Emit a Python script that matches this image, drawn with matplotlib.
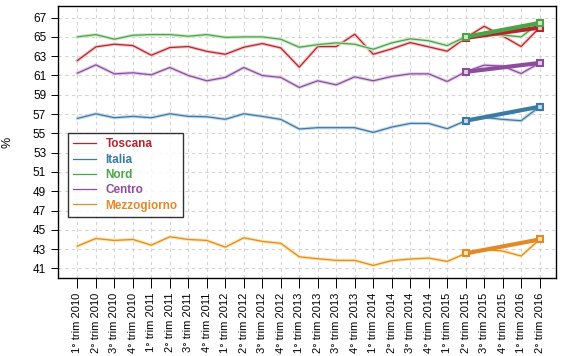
import numpy as np
import matplotlib
matplotlib.use('Agg')
from matplotlib import pyplot as plt
import matplotlib.patheffects as pe

plt.rcParams['font.family'] = ['Liberation Sans', 'DejaVu Sans']

# trimestri
anni = [2010, 2011, 2012, 2013, 2014, 2015, 2016]
trimestri = [f"{q}° trim {a}" for a in anni for q in range(1, 5)][:26]

# tassi di occupazione (%)
toscana = [62.55, 63.97, 64.24, 64.1, 63.1, 63.9, 64.0, 63.5, 63.2, 63.93, 64.31, 63.86, 61.86,
           64.0, 64.0, 65.28, 63.2, 63.76, 64.41, 63.97, 63.52, 64.9, 66.1, 65.1, 64.0, 65.97]
italia = [56.55, 57.03, 56.62, 56.76, 56.62, 57.03, 56.76, 56.72, 56.46, 57.03, 56.76, 56.45, 55.45,
          55.59, 55.59, 55.59, 55.1, 55.65, 56.03, 56.03, 55.48, 56.31, 56.66, 56.45, 56.31, 57.76]
nord = [65.0, 65.24, 64.76, 65.17, 65.24, 65.24, 65.07, 65.24, 64.95, 65.0, 65.0, 64.76, 63.93,
        64.2, 64.38, 64.24, 63.72, 64.38, 64.8, 64.6, 64.1, 65.0, 65.34, 65.2, 65.0, 66.45]
centro = [61.24, 62.1, 61.17, 61.28, 61.07, 61.83, 61.0, 60.45, 60.8, 61.83, 61.0, 60.8, 59.76,
          60.45, 60.03, 60.86, 60.45, 60.9, 61.17, 61.17, 60.38, 61.38, 62.07, 61.97, 61.2, 62.3]
mezzogiorno = [43.31, 44.1, 43.9, 44.0, 43.41, 44.28, 44.0, 43.9, 43.2, 44.17, 43.8, 43.6, 42.2,
               42.0, 41.83, 41.83, 41.31, 41.8, 41.97, 42.07, 41.72, 42.55, 42.97, 42.8, 42.28, 44.0]

serie = [('Toscana', toscana, '#B2262E', '#f4c6c6'),
         ('Italia', italia, '#3C7AA6', '#c9dbe8'),
         ('Nord', nord, '#4BA546', '#cfe8cc'),
         ('Centro', centro, '#8C4E9C', '#e0cde6'),
         ('Mezzogiorno', mezzogiorno, '#E2892A', '#fde6a8')]

x = np.arange(len(trimestri))
i0, i1 = 21, 25  # tendenza ultimo anno

fig = plt.figure(figsize=(5.63, 3.56), dpi=100)
ax = fig.add_axes([0.103, 0.219, 0.885, 0.764])

for nome, val, col, alone in serie:
    ax.plot(x, val, color=col, lw=0.9, label=nome,
            path_effects=[pe.Stroke(linewidth=2.4, foreground=alone), pe.Normal()])
for nome, val, col, alone in serie:
    ax.plot([i0, i1], [val[i0], val[i1]], color=col, lw=3, solid_capstyle='butt',
            marker='s', ms=5, mfc=alone, mec=col, mew=1.5, zorder=5)

ax.set_xlim(-1.05, 25.9)
ax.set_ylim(40.0, 68.2)
ax.set_yticks(np.arange(41, 68, 2))
ax.set_xticks(x)
ax.set_xticklabels(trimestri, rotation=90, fontsize=8)
ax.tick_params(axis='y', labelsize=8.5, length=5, width=0.7)
ax.tick_params(axis='x', length=7, width=0.7)
ax.grid(True, color='#d4d4d4', linestyle=(0, (3, 3)), lw=0.8)
ax.set_axisbelow(True)
for s in ax.spines.values():
    s.set_linewidth(1.0)
ax.set_ylabel('%', fontsize=9, labelpad=14)

leg = ax.legend(loc='upper left', bbox_to_anchor=(0.02, 0.533), borderaxespad=0,
                fontsize=8.5, handlelength=1.9, frameon=True, fancybox=False,
                edgecolor='black', borderpad=0.45, labelspacing=0.28, handletextpad=0.85)
leg.get_frame().set_linewidth(1.0)
for t, (nome, val, col, alone) in zip(leg.get_texts(), serie):
    t.set_color(col)
    t.set_fontweight('bold')
for l in leg.get_lines():
    l.set_path_effects([])

fig.savefig('out.png', dpi=100)
